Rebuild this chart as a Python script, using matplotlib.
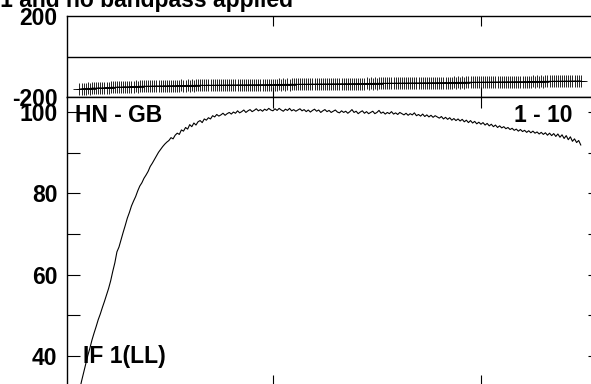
import numpy as np
import matplotlib
matplotlib.use("Agg")
import matplotlib.pyplot as plt
from matplotlib.ticker import MultipleLocator

plt.rcParams["font.family"] = ["Liberation Sans", "DejaVu Sans"]
plt.rcParams["font.weight"] = "bold"

# amplitude per channel, starting at channel 7
amplitude = [
    31.5, 33.8, 35.9, 38.0, 40.1, 41.9, 43.9, 45.6, 47.2, 48.9, 50.3, 51.9, 53.4, 55.0,
    56.6, 58.5, 60.8, 62.9, 65.6, 66.8, 68.6, 70.4, 72.1, 73.9, 75.3, 76.9, 78.1, 79.2,
    80.6, 81.8, 82.6, 83.7, 84.5, 85.4, 86.6, 87.4, 88.3, 89.2, 90.1, 90.8, 91.5, 92.1,
    92.6, 93.0, 93.7, 93.4, 94.3, 94.8, 94.5, 95.6, 95.3, 96.2, 95.8, 96.9, 96.4, 97.3, 96.8, 97.6,
    97.9, 97.4, 98.3, 98.0, 98.6, 98.3, 99.1, 98.8, 99.4, 99.0, 99.3, 99.7,
    99.2, 99.6, 99.9, 99.5, 100.0, 99.7, 100.3, 99.8, 100.1, 100.5, 99.9, 100.3,
    100.6, 100.1, 100.4, 100.8, 100.3, 100.6, 100.2, 100.7, 100.4, 100.9, 100.5, 100.3,
    100.8, 100.4, 100.9, 100.5, 100.2, 100.7, 100.4, 100.9, 100.3, 100.6, 100.2, 100.5,
    100.8, 100.3, 100.6, 100.1, 100.5, 100.0, 100.4, 100.7, 100.2, 100.5, 99.9, 100.3,
    100.6, 100.1, 100.4, 99.9, 100.2, 100.5, 100.0, 99.8, 100.3, 99.9, 100.2, 99.7,
    100.1, 100.6, 99.9, 100.2, 99.6, 100.0, 100.3, 99.7, 100.1, 99.6, 99.9,
    100.2, 99.6, 99.9, 100.4, 99.7, 100.0, 99.5, 99.9, 99.6, 100.1, 99.5, 99.8, 99.4, 99.9, 99.6, 99.3,
    99.7, 99.2, 99.6, 99.3, 99.8, 99.1, 99.4, 99.0, 99.5, 98.9, 99.3, 98.8, 99.2, 98.7, 99.1, 98.8,
    98.5, 98.9, 98.3, 98.7, 98.2, 98.6, 98.0, 98.4, 97.9, 98.3, 97.8, 98.2, 97.6, 98.0, 97.4, 97.9,
    97.3, 97.7, 97.1, 97.5, 97.0, 97.4, 96.8, 97.2, 96.6, 97.0, 96.4, 96.8, 96.2, 96.6, 96.1, 96.4,
    95.9, 96.2, 95.7, 96.0, 95.5, 95.8, 95.3, 95.7, 95.2, 95.5, 95.0, 95.4, 94.9,
    95.3, 94.8, 95.1, 94.6, 95.0, 94.5, 94.9, 94.3, 94.8, 94.2, 94.7, 94.0, 94.6,
    93.8, 94.4, 93.5, 94.2, 93.2, 93.9, 92.8, 93.4, 92.5, 93.0, 91.9,
]

# phase per channel (degrees), starting at channel 7
phase = [
    -161.2, -159.8, -160.5, -158.9, -157.6, -158.3, -156.8, -156.1, -157.0, -155.4, -154.9,
    -155.8, -154.2, -153.5, -154.4, -152.8, -152.1, -153.0, -151.6, -150.9, -151.8, -150.2,
    -149.6, -150.5, -149.1, -148.4, -149.3, -147.9, -148.6, -147.2, -148.0, -146.8, -147.5,
    -146.3, -147.1, -145.9, -146.6, -145.4, -146.2, -145.1, -145.8, -144.6, -145.5, -144.3,
    -145.0, -143.9, -144.8, -143.6, -144.4, -143.2, -144.1, -143.5, -142.8, -143.9, -142.6,
    -143.4, -142.2, -143.1, -142.7, -141.9, -142.9, -142.1, -141.6, -142.5, -141.8, -142.3,
    -141.4, -142.0, -141.1, -141.9, -140.8, -141.5, -140.6, -141.3, -140.4, -141.2, -140.2,
    -140.9, -140.0, -140.7, -139.8, -140.5, -139.6, -140.3, -139.4, -140.1, -139.2, -139.9,
    -139.0, -139.7, -138.8, -139.5, -138.5, -139.3, -138.3, -139.0, -138.0, -138.8, -137.8,
    -138.6, -137.6, -138.3, -137.3, -138.1, -137.1, -137.9, -136.9, -137.6, -136.7, -137.4,
    -136.4, -137.2, -136.2, -136.9, -136.0, -136.7, -135.7, -136.5, -135.5, -136.2, -135.3,
    -136.0, -135.0, -135.8, -134.8, -135.5, -134.6, -135.3, -134.3, -135.1, -134.1, -134.8,
    -133.9, -134.6, -133.6, -134.4, -133.4, -134.1, -133.2, -133.9, -132.9, -133.7, -132.7,
    -133.4, -132.5, -133.2, -132.2, -133.0, -132.0, -132.7, -131.8, -132.5, -131.5, -132.2,
    -131.3, -132.0, -131.0, -131.8, -130.8, -131.5, -130.6, -131.3, -130.3, -131.0, -130.1,
    -130.8, -129.8, -130.6, -129.6, -130.3, -129.4, -130.1, -129.1, -129.8, -128.9, -129.6,
    -128.6, -129.4, -128.4, -129.1, -128.1, -128.9, -127.9, -128.6, -127.7, -128.4, -127.4,
    -128.1, -127.2, -127.9, -126.9, -127.6, -126.7, -127.4, -126.4, -127.2, -126.2, -126.9,
    -125.9, -126.7, -125.7, -126.4, -125.4, -126.2, -125.2, -125.9, -124.9, -125.7, -124.7,
    -125.4, -124.4, -125.2, -124.2, -124.9, -123.9, -124.7, -123.7, -124.4, -123.4, -124.2,
    -123.2, -123.9, -122.9, -123.7, -122.7, -123.4, -122.4, -123.2, -122.2, -122.9, -121.9,
    -122.7, -121.7, -122.4, -121.4, -122.2, -121.2, -121.9, -120.9, -121.7, -120.7, -121.4,
]

amp_chan = np.arange(7, 7 + len(amplitude))
ph_chan = np.arange(7, 7 + len(phase))

W, H = 591, 384
fig = plt.figure(figsize=(W / 100, H / 100), dpi=100)

left = 67 / W
width = (600 - 67) / W
ax_ph = fig.add_axes([left, 1 - 97 / H, width, 81 / H])
ax_amp = fig.add_axes([left, -2 / H, width, (386 - 97) / H])

fs = 16.5

# phase panel
ax_ph.plot(ph_chan, phase, color="black", lw=0.8, marker="+", ms=8, mew=0.6)
ax_ph.axhline(0, color="black", lw=1.0)
ax_ph.set_xlim(1, 257.25)
ax_ph.set_ylim(-200, 200)
ax_ph.set_yticks([-200, 200])
ax_ph.set_yticklabels(["-200", "200"], fontsize=fs, fontweight="bold")
ax_ph.set_xticks([100, 200])
ax_ph.set_xticklabels([])
ax_ph.tick_params(axis="y", length=0, pad=7)
ax_ph.tick_params(axis="x", direction="in", length=7, width=0.8, top=True, bottom=True)

# amplitude panel
ax_amp.plot(amp_chan, amplitude, color="black", lw=0.8)
ax_amp.set_xlim(1, 257.25)
ax_amp.set_ylim(32.6, 103.7)
ax_amp.set_yticks([40, 60, 80, 100])
ax_amp.set_yticklabels(["40", "60", "80", "100"], fontsize=fs, fontweight="bold")
ax_amp.yaxis.set_minor_locator(MultipleLocator(10))
ax_amp.set_xticks([100, 200])
ax_amp.set_xticklabels([])
ax_amp.tick_params(axis="y", which="both", direction="in", length=9, width=0.8,
                   left=True, right=True, pad=7)
ax_amp.tick_params(axis="x", direction="in", length=8, width=0.8, top=True, bottom=True)

for ax in (ax_ph, ax_amp):
    for s in ax.spines.values():
        s.set_linewidth(1.0)

fig.text(293 / W, 1 - 7 / H, "Calibrated with CL table 1 and no bandpass applied",
         ha="right", va="baseline", fontsize=fs, fontweight="bold")
fig.text(75 / W, 1 - 115 / H, "HN - GB", ha="left", va="center",
         fontsize=fs, fontweight="bold")
fig.text(572 / W, 1 - 115 / H, "1 - 10", ha="right", va="center",
         fontsize=fs, fontweight="bold")
fig.text(83 / W, 1 - 357 / H, "IF 1(LL)", ha="left", va="center",
         fontsize=fs, fontweight="bold")

fig.savefig("out.png", dpi=100)
